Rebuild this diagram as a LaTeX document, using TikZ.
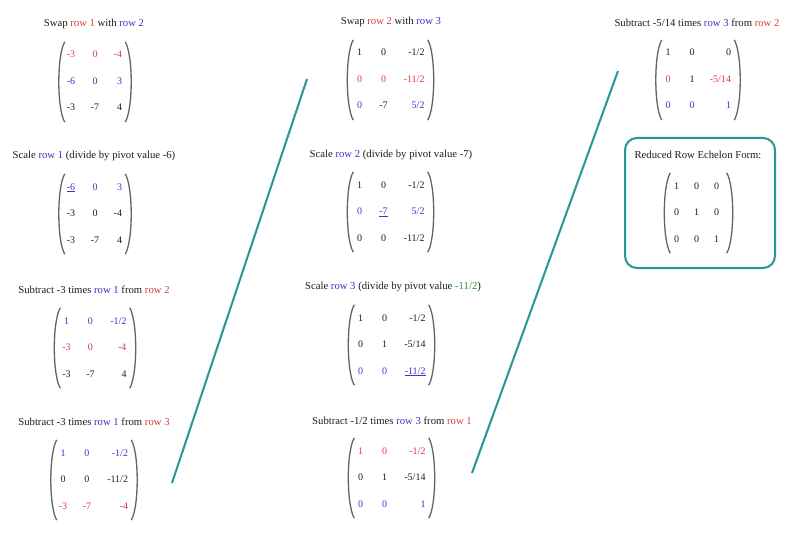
\documentclass[tikz,border=0pt]{standalone}
\usepackage{fontspec}
\setmainfont{Liberation Serif}
\usetikzlibrary{matrix}
\definecolor{rc}{RGB}{222,60,60}
\definecolor{bc}{RGB}{55,55,200}
\definecolor{gc}{RGB}{40,150,40}
\definecolor{teal1}{RGB}{38,150,152}
\definecolor{pg}{RGB}{100,100,100}
\definecolor{ink}{RGB}{30,30,30}
\newcommand\rr[1]{\textcolor{rc}{#1}}
\newcommand\bbl[1]{\textcolor{bc}{#1}}
\newcommand\grn[1]{\textcolor{gc}{#1}}
\tikzset{
 ttl/.style={font=\fontsize{10.7}{12}\selectfont, inner sep=0pt, text=ink},
 mat/.style={matrix of nodes, inner sep=0pt, row sep=17.5pt, column sep=10pt,
   nodes={font=\fontsize{10}{12}\selectfont, inner sep=0pt, text height=7pt, text depth=2pt, text=ink},
   column 1/.style={nodes={text width=14pt, align=center}},
   column 2/.style={nodes={text width=14pt, align=center}},
   column 3/.style={nodes={text width=#1, align=right}}},
 paren/.style={draw=pg, line width=1.3pt},
 conn/.style={draw=teal1, line width=2pt},
 rbox/.style={draw=teal1, line width=2pt, rounded corners=12pt, minimum width=150pt, minimum height=130pt, inner sep=0pt},
}
\newcommand\prn[1]{%
 \draw[paren] ([shift={(1,-9)}]#1.north west) .. controls ([shift={(-7,4)}]#1.north west) and ([shift={(-7,-4)}]#1.south west) .. ([shift={(1,9)}]#1.south west);
 \draw[paren] ([shift={(3,-9)}]#1.north east) .. controls ([shift={(11,4)}]#1.north east) and ([shift={(11,-4)}]#1.south east) .. ([shift={(3,9)}]#1.south east);}
\begin{document}
\begin{tikzpicture}[x=1pt,y=-1pt]
\fill[white] (0,0) rectangle (800,548);
\useasboundingbox (0,0) rectangle (800,548);

% column 1
\node[ttl] (t1) at (94,24) {Swap \rr{row 1} with \bbl{row 2}};
\matrix (m1) [mat=10pt, row 1/.style={nodes={text=rc}}, row 2/.style={nodes={text=bc}}] at (93,82)
 {-3 & 0 & -4\\ -6 & 0 & 3\\ -3 & -7 & 4\\};
\prn{m1}

\node[ttl] (t2) at (94,156) {Scale \bbl{row 1} (divide by pivot value -6)};
\matrix (m2) [mat=10pt, row 1/.style={nodes={text=bc}}] at (93,214)
 {\underline{-6} & 0 & 3\\ -3 & 0 & -4\\ -3 & -7 & 4\\};
\prn{m2}

\node[ttl] (t3) at (94,290) {Subtract -3 times \bbl{row 1} from \rr{row 2}};
\matrix (m3) [mat=19pt, row 1/.style={nodes={text=bc}}, row 2/.style={nodes={text=rc}}] at (93,348)
 {1 & 0 & -1/2\\ -3 & 0 & -4\\ -3 & -7 & 4\\};
\prn{m3}

\node[ttl] (t4) at (94,422) {Subtract -3 times \bbl{row 1} from \rr{row 3}};
\matrix (m4) [mat=24pt, row 1/.style={nodes={text=bc}}, row 3/.style={nodes={text=rc}}] at (92,480)
 {1 & 0 & -1/2\\ 0 & 0 & -11/2\\ -3 & -7 & -4\\};
\prn{m4}

% column 2
\node[ttl] (t5) at (391,22) {Swap \rr{row 2} with \bbl{row 3}};
\matrix (m5) [mat=24pt, row 2/.style={nodes={text=rc}}, row 3/.style={nodes={text=bc}}] at (388.5,80)
 {1 & 0 & -1/2\\ 0 & 0 & -11/2\\ 0 & |[text=ink]| -7 & 5/2\\};
\prn{m5}

\node[ttl] (t6) at (391,155) {Scale \bbl{row 2} (divide by pivot value -7)};
\matrix (m6) [mat=24pt, row 2/.style={nodes={text=bc}}] at (388.5,212)
 {1 & 0 & -1/2\\ 0 & \underline{-7} & 5/2\\ 0 & 0 & -11/2\\};
\prn{m6}

\node[ttl] (t7) at (393,287) {Scale \bbl{row 3} (divide by pivot value \grn{-11/2})};
\matrix (m7) [mat=24pt, row 3/.style={nodes={text=bc}}] at (389.5,345)
 {1 & 0 & -1/2\\ 0 & 1 & -5/14\\ 0 & 0 & \underline{-11/2}\\};
\prn{m7}

\node[ttl] (t8) at (392,421) {Subtract -1/2 times \bbl{row 3} from \rr{row 1}};
\matrix (m8) [mat=24pt, row 1/.style={nodes={text=rc}}, row 3/.style={nodes={text=bc}}] at (389.5,478)
 {1 & 0 & -1/2\\ 0 & 1 & -5/14\\ 0 & 0 & 1\\};
\prn{m8}

% column 3
\node[ttl] (t9) at (697,23) {Subtract -5/14 times \bbl{row 3} from \rr{row 2}};
\matrix (m9) [mat=22pt, row 2/.style={nodes={text=rc}}, row 3/.style={nodes={text=bc}}] at (696,80)
 {1 & 0 & 0\\ 0 & |[text=ink]| 1 & -5/14\\ 0 & 0 & 1\\};
\prn{m9}

\node[rbox] (box) at (700,203) {};
\node[ttl] (t10) at (698,155) {Reduced Row Echelon Form:};
\matrix (m10) [mat=14pt, column sep=6pt, column 3/.style={nodes={text width=14pt, align=center}}] at (696.5,213)
 {1 & 0 & 0\\ 0 & 1 & 0\\ 0 & 0 & 1\\};
\prn{m10}

% connectors
\coordinate (l1a) at (172,483);
\coordinate (l1b) at (307,79);
\coordinate (l2a) at (472,473);
\coordinate (l2b) at (618,71);
\draw[conn] (l1a) -- (l1b);
\draw[conn] (l2a) -- (l2b);
\end{tikzpicture}
\end{document}
